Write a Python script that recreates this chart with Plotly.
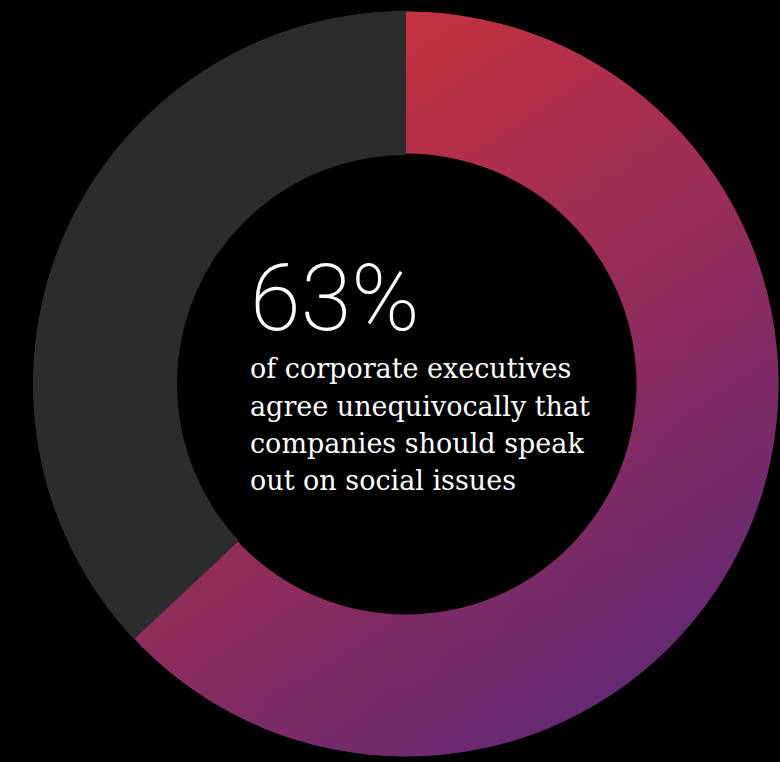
import plotly.graph_objects as go

# data
labels = ["Agree unequivocally", "Other"]
values = [63, 37]
headline = "63%"
caption_lines = [
    "of corporate executives",
    "agree unequivocally that",
    "companies should speak",
    "out on social issues",
]

W, H = 780, 762
CX, CY, R = 406, 384, 373  # pixel centre / outer radius of the ring
HOLE = 0.614

# gradient colours for the big slice (vertical + horizontal layered at 50%)
grad_top, grad_bottom = "rgb(226,53,46)", "rgb(51,37,142)"
grad_left, grad_right = "rgb(226,53,46)", "rgb(114,41,112)"
rest_color = "#2c2c2e"


def make_fig():
    fig = go.Figure()

    # gradient discs sit under the pie; the big slice is left transparent
    fig.add_trace(
        go.Scatter(
            x=[CX], y=[CY], mode="markers", hoverinfo="skip", cliponaxis=False,
            marker=dict(
                size=2 * R - 1, color=grad_top, line_width=0,
                gradient=dict(type="vertical", color=grad_bottom),
            ),
        )
    )
    fig.add_trace(
        go.Scatter(
            x=[CX], y=[CY], mode="markers", hoverinfo="skip", cliponaxis=False,
            opacity=0.5,
            marker=dict(
                size=2 * R - 1, color=grad_left, line_width=0,
                gradient=dict(type="horizontal", color=grad_right),
            ),
        )
    )
    # black centre so the ring hole stays black
    fig.add_trace(
        go.Scatter(
            x=[CX], y=[CY], mode="markers", hoverinfo="skip", cliponaxis=False,
            marker=dict(size=2 * R * HOLE + 3, color="black", line_width=0),
        )
    )

    fig.add_trace(
        go.Pie(
            labels=labels,
            values=values,
            hole=HOLE,
            sort=False,
            direction="clockwise",
            rotation=0,
            textinfo="none",
            hoverinfo="label+percent",
            marker=dict(colors=["rgba(0,0,0,0)", rest_color], line_width=0),
            domain=dict(
                x=[(CX - R) / W, (CX + R) / W],
                y=[1 - (CY + R) / H, 1 - (CY - R) / H],
            ),
            showlegend=False,
        )
    )

    fig.add_annotation(
        x=248, y=298, xref="x", yref="y", text=headline, showarrow=False,
        xanchor="left", yanchor="middle",
        font=dict(family="Roboto", size=92, color="white", weight=200),
    )
    for i, line in enumerate(caption_lines):
        fig.add_annotation(
            x=248, y=368.7 + i * 37.3, xref="x", yref="y", text=line,
            showarrow=False, xanchor="left", yanchor="middle",
            font=dict(family="DejaVu Serif", size=27, color="white"),
        )

    fig.update_xaxes(range=[0, W], visible=False, fixedrange=True)
    fig.update_yaxes(range=[H, 0], visible=False, fixedrange=True)
    fig.update_layout(
        width=W, height=H, autosize=False,
        margin=dict(l=0, r=0, t=0, b=0, pad=0),
        paper_bgcolor="black", plot_bgcolor="black",
        showlegend=False,
    )
    return fig


fig = make_fig()
fig.write_html(
    "out.html",
    config={"displayModeBar": False},
    post_script="document.body.style.margin='0';"
    "document.body.style.background='black';",
)
